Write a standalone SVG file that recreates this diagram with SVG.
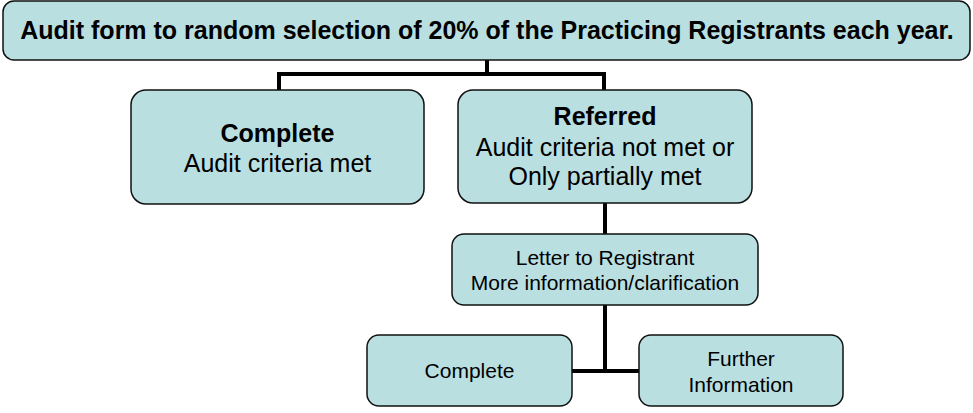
<svg xmlns="http://www.w3.org/2000/svg" width="973" height="413" viewBox="0 0 973 413">
<style>
.box{fill:#b9dfe1;stroke:#111;stroke-width:1.5}
.t{font-family:"Liberation Sans",Arial,sans-serif;fill:#000;text-anchor:middle}
.b{font-weight:bold}
.conn{fill:none;stroke:#000;stroke-width:4}
</style>
<rect width="973" height="413" fill="#fff"/>
<g id="connectors" class="conn">
<path d="M487 60V74M277 74H606M279 74V90M604 74V90"/>
<path d="M605 203V234"/>
<path d="M605 305V371M572 371H639"/>
</g>
<g id="top">
<rect class="box" x="3" y="1" width="967" height="59" rx="11"/>
<text class="t b" x="487" y="39" font-size="25">Audit form to random selection of 20% of the Practicing Registrants each year.</text>
</g>
<g id="complete">
<rect class="box" x="131" y="90" width="293" height="114" rx="15"/>
<text class="t b" x="277.5" y="142" font-size="25">Complete</text>
<text class="t" x="277.5" y="172" font-size="25">Audit criteria met</text>
</g>
<g id="referred">
<rect class="box" x="458" y="90" width="294" height="113" rx="15"/>
<text class="t b" x="605" y="125" font-size="25">Referred</text>
<text class="t" x="605" y="156" font-size="25">Audit criteria not met or</text>
<text class="t" x="605" y="185" font-size="25">Only partially met</text>
</g>
<g id="letter">
<rect class="box" x="452" y="234" width="306" height="71" rx="12"/>
<text class="t" x="605" y="265" font-size="21">Letter to Registrant</text>
<text class="t" x="605" y="290" font-size="21">More information/clarification</text>
</g>
<g id="complete2">
<rect class="box" x="367" y="335" width="205" height="71" rx="12"/>
<text class="t" x="469.5" y="378" font-size="21">Complete</text>
</g>
<g id="further">
<rect class="box" x="639" y="335" width="204" height="71" rx="12"/>
<text class="t" x="741" y="366" font-size="21">Further</text>
<text class="t" x="741" y="392" font-size="21">Information</text>
</g>
</svg>
